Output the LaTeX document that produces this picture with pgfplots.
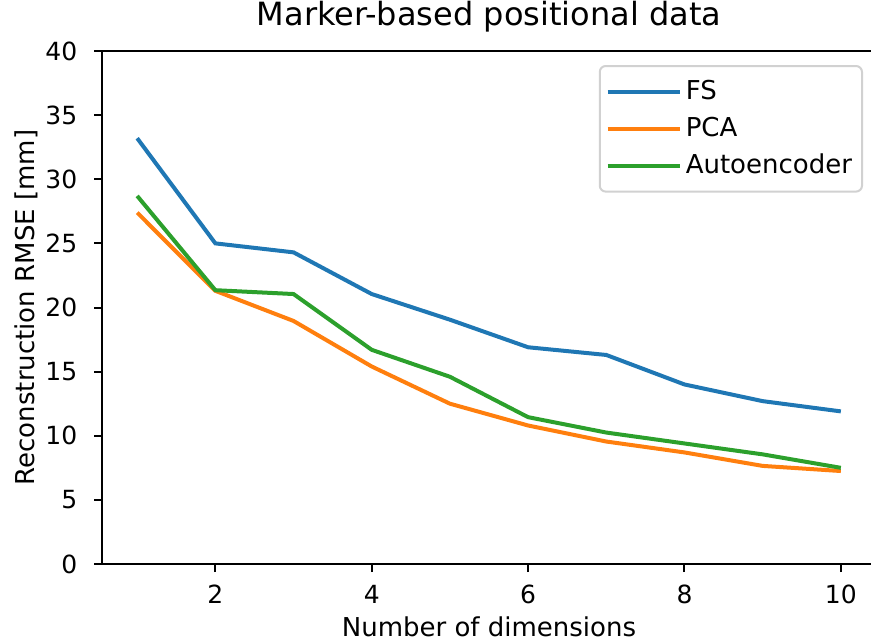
\documentclass[border=0pt]{standalone}
\usepackage{pgfplots}
\pgfplotsset{compat=1.18}
\usepackage{fontspec}
\setmainfont{DejaVu Sans}
\usetikzlibrary{calc}
\definecolor{tabblue}{HTML}{1F77B4}
\definecolor{taborange}{HTML}{FF7F0E}
\definecolor{tabgreen}{HTML}{2CA02C}
\begin{document}
\fontsize{12.5pt}{15pt}\selectfont
\begin{tikzpicture}
\begin{axis}[
  scale only axis,
  width=387pt, height=256.5pt,
  xmin=0.55, xmax=10.45,
  ymin=0, ymax=40,
  xtick={2,4,6,8,10},
  ytick={0,5,10,15,20,25,30,35,40},
  tick align=outside,
  tick pos=left,
  major tick length=4pt,
  every tick/.style={line width=1pt, black},
  axis line style={line width=1pt},
  /pgf/number format/assume math mode=true,
  ticklabel style={font=\fontsize{12.5pt}{15pt}\selectfont},
  xticklabel style={yshift=-2.3pt},
  yticklabel style={xshift=-4pt},
  title style={font=\fontsize{16pt}{19pt}\selectfont, at={(axis description cs:0.5,1)}, anchor=base, yshift=7pt},
  title={Marker-based positional data},
  xlabel={Number of dimensions},
  ylabel={Reconstruction RMSE [mm]},
  xlabel style={font=\fontsize{13pt}{15pt}\selectfont, at={(axis description cs:0.5,0)}, anchor=base, yshift=-36pt},
  ylabel style={font=\fontsize{13pt}{15pt}\selectfont, at={($(axis description cs:0,0.5)+(-33.5pt,0)$)}, anchor=base},
  legend cell align=left,
  legend style={at={(1,1)}, anchor=north east, xshift=-6.5pt, yshift=-7pt,
    draw=black!18, line width=1pt, rounded corners=3pt,
    font=\fontsize{13pt}{15pt}\selectfont,
    row sep=3pt, inner xsep=3pt, inner ysep=5pt},
  legend image code/.code={\draw[#1, line width=2pt] (0pt,0pt) -- (28.5pt,0pt); \path (0pt,0pt) -- (36pt,0pt);},
]
\addplot[tabblue, line width=2pt] coordinates {
(1,33.2) (2,25.0) (3,24.3) (4,21.05) (5,19.05) (6,16.9) (7,16.3) (8,14.0) (9,12.7) (10,11.9)};
\addlegendentry{FS}
\addplot[taborange, line width=2pt] coordinates {
(1,27.4) (2,21.3) (3,18.95) (4,15.4) (5,12.5) (6,10.8) (7,9.55) (8,8.7) (9,7.65) (10,7.25)};
\addlegendentry{PCA}
\addplot[tabgreen, line width=2pt] coordinates {
(1,28.7) (2,21.35) (3,21.05) (4,16.7) (5,14.6) (6,11.45) (7,10.25) (8,9.4) (9,8.55) (10,7.5)};
\addlegendentry{Autoencoder}
\end{axis}
\pgfresetboundingbox
\path[use as bounding box] ($(current axis.south west)+(-51pt,-38.5pt)$) rectangle ($(current axis.north east)+(-2.5pt,25.5pt)$);
\end{tikzpicture}
\end{document}
